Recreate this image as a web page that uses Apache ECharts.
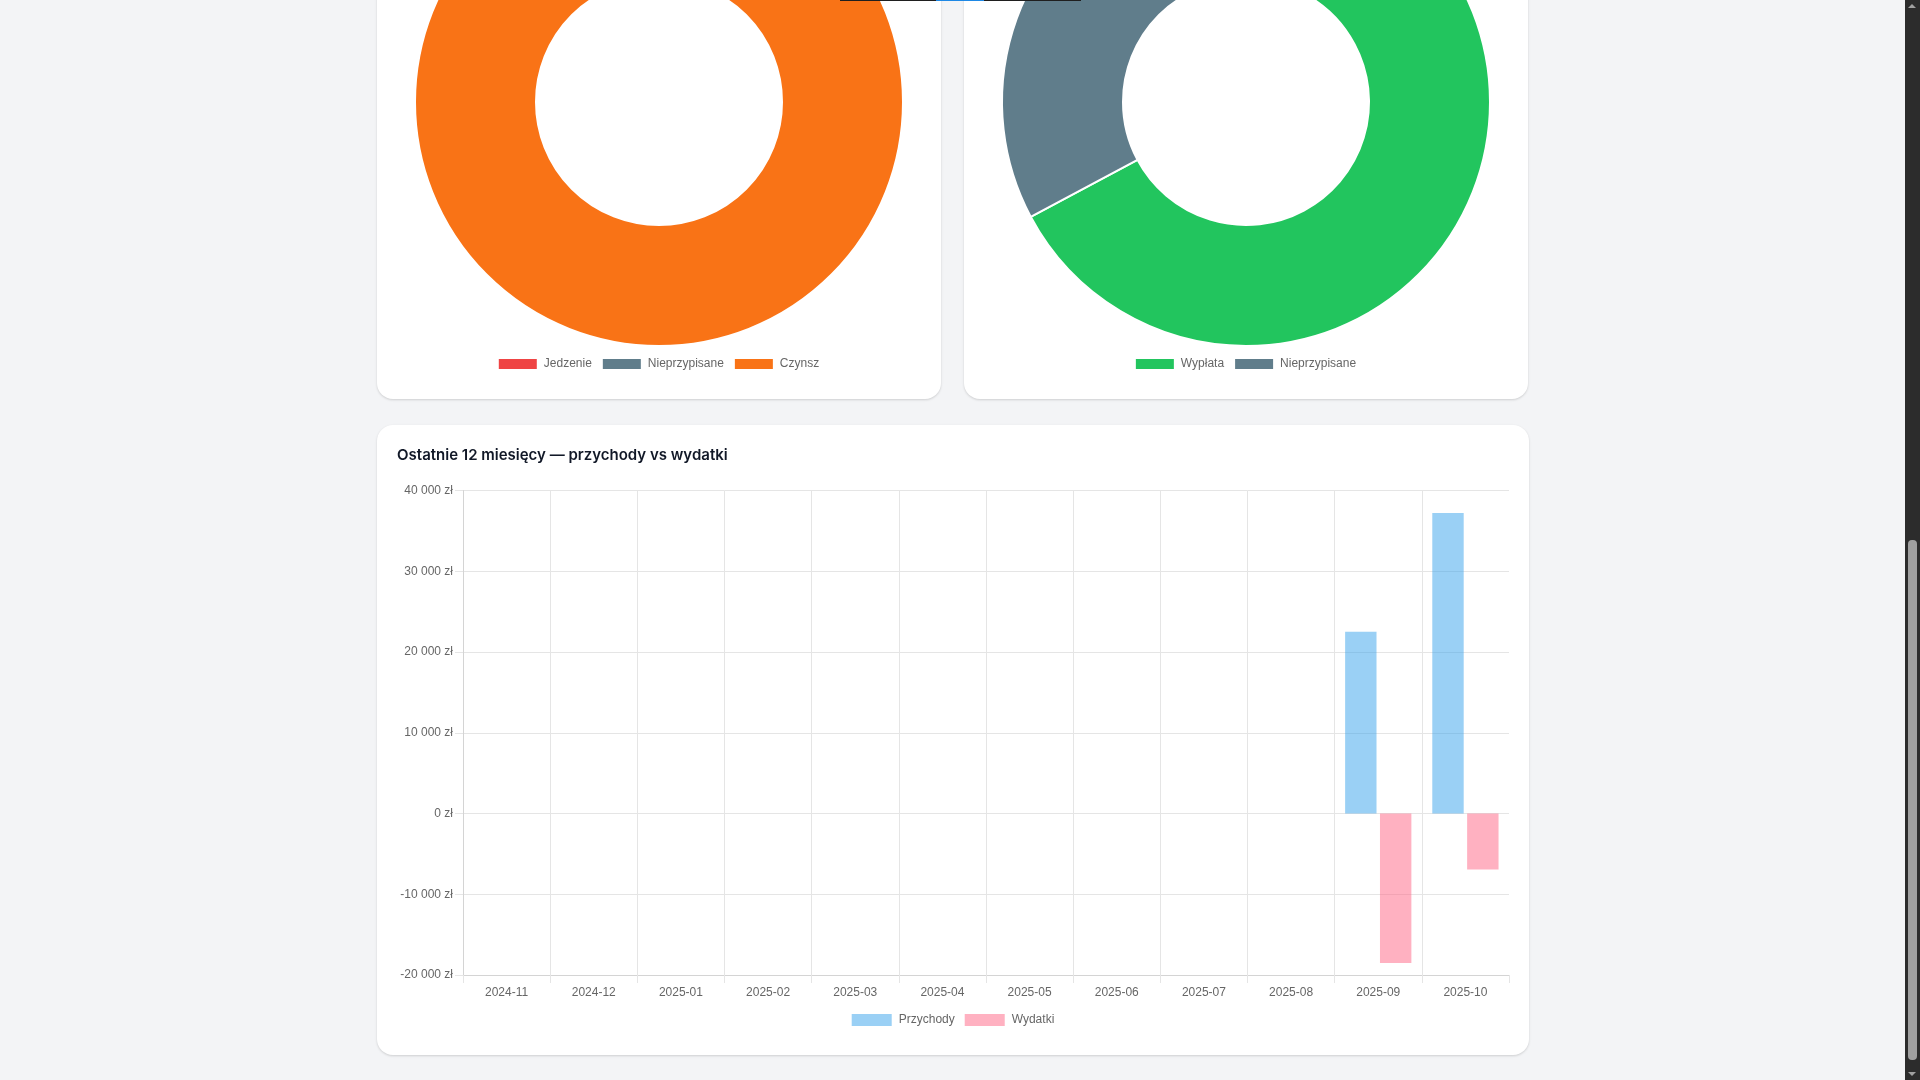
<!DOCTYPE html>
<html>
<head>
<meta charset="utf-8">
<script src="https://cdn.jsdelivr.net/npm/echarts@6/dist/echarts.min.js"></script>
<style>
    html, body {
        margin: 0;
        padding: 0;
        width: 1920px;
        height: 1080px;
        overflow: hidden;
        background: #f3f4f6;
        font-family: 'Liberation Sans', Arial, sans-serif;
    }
    .card {
        position: absolute;
        background: #fff;
        border-radius: 16px;
        box-shadow: 0 1px 3px rgba(0, 0, 0, 0.1), 0 1px 2px rgba(0, 0, 0, 0.06);
    }
    .card .chart {
        position: absolute;
        left: 0;
        top: 0;
        right: 0;
        bottom: 0;
    }
    /* strip left over from the element above the fold */
    .topline {
        position: absolute;
        top: 0;
        left: 840px;
        width: 241px;
        height: 1px;
        background: #1f1f1f;
    }
    .topline span {
        position: absolute;
        left: 96px;
        width: 48px;
        height: 1px;
        background: #1e88e5;
    }
    .scroll-track {
        position: absolute;
        left: 1905px;
        top: 0;
        width: 15px;
        height: 1080px;
        background: #2c2c2c;
    }
    .scroll-thumb {
        position: absolute;
        left: 3px;
        top: 540px;
        width: 9px;
        height: 520px;
        border-radius: 4px;
        background: #a0a0a0;
    }
    .arrow-up, .arrow-down {
        position: absolute;
        left: 3px;
        width: 0;
        height: 0;
        border-left: 4px solid transparent;
        border-right: 4px solid transparent;
    }
    .arrow-up { top: 4px; border-bottom: 4px solid #a0a0a0; }
    .arrow-down { bottom: 4px; border-top: 4px solid #a0a0a0; }
</style>
</head>
<body>

<div class="card" style="left:377px; top:-300px; width:564px; height:699px;">
    <div class="chart" id="chart-wydatki"></div>
</div>
<div class="card" style="left:964px; top:-300px; width:564px; height:699px;">
    <div class="chart" id="chart-przychody"></div>
</div>
<div class="card" style="left:377px; top:425px; width:1152px; height:630px;">
    <div class="chart" id="chart-miesiace"></div>
</div>

<div class="topline"><span></span></div>
<div class="scroll-track">
    <div class="arrow-up"></div>
    <div class="scroll-thumb"></div>
    <div class="arrow-down"></div>
</div>

<script>
// kategorie wydatków (bieżący miesiąc)
var expenseCats = ['Jedzenie', 'Nieprzypisane', 'Czynsz'];
var expenseCatValues = [0, 0, 6950];
var expenseCatColors = ['#ef4444', '#607d8b', '#f97316'];

// kategorie przychodów (bieżący miesiąc)
var incomeCats = ['Wypłata', 'Nieprzypisane'];
var incomeCatValues = [25000, 12200];
var incomeCatColors = ['#22c55e', '#607d8b'];

// ostatnie 12 miesięcy
var months = ['2024-11', '2024-12', '2025-01', '2025-02', '2025-03', '2025-04',
    '2025-05', '2025-06', '2025-07', '2025-08', '2025-09', '2025-10'];
var incomeValues = [0, 0, 0, 0, 0, 0, 0, 0, 0, 0, 22500, 37200];
var expenseValues = [0, 0, 0, 0, 0, 0, 0, 0, 0, 0, -18500, -6950];

var yMin = -20000;
var yMax = 40000;
var yStep = 10000;

var FONT = "'Liberation Sans', Arial, sans-serif";

function formatPln(v) {
    var s = String(Math.abs(v)).replace(/\B(?=(\d{3})+(?!\d))/g, '\u00a0');
    return (v < 0 ? '-' : '') + s + '\u00a0zł';
}

function pieData(names, values, colors) {
    var out = [];
    for (var i = 0; i < names.length; i++) {
        out.push({ name: names[i], value: values[i], itemStyle: { color: colors[i] } });
    }
    return out;
}

function donutOption(names, values, colors) {
    return {
        animation: false,
        legend: {
            data: names,
            top: 653,
            left: 'center',
            icon: 'rect',
            itemWidth: 38,
            itemHeight: 10,
            itemGap: 11,
            itemStyle: { borderWidth: 0 },
            selectedMode: false,
            textStyle: {
                color: '#666',
                fontSize: 12,
                fontFamily: FONT,
                padding: [0, 0, 0, 2]
            }
        },
        series: [{
            type: 'pie',
            center: [282, 402],
            radius: [123, 244],
            startAngle: 90,
            clockwise: true,
            silent: true,
            label: { show: false },
            labelLine: { show: false },
            itemStyle: { borderColor: '#fff', borderWidth: 2 },
            data: pieData(names, values, colors)
        }]
    };
}

var chartWydatki = echarts.init(document.getElementById('chart-wydatki'));
chartWydatki.setOption(donutOption(expenseCats, expenseCatValues, expenseCatColors));

var chartPrzychody = echarts.init(document.getElementById('chart-przychody'));
chartPrzychody.setOption(donutOption(incomeCats, incomeCatValues, incomeCatColors));

var chartMiesiace = echarts.init(document.getElementById('chart-miesiace'));

option = {
    animation: false,
    title: {
        text: 'Ostatnie 12 miesięcy — przychody vs wydatki',
        left: 20,
        top: 23,
        padding: 0,
        textStyle: {
            fontFamily: 'Inter',
            fontWeight: 600,
            fontSize: 15,
            color: '#111827'
        }
    },
    legend: {
        data: ['Przychody', 'Wydatki'],
        top: 584,
        left: 'center',
        icon: 'rect',
        itemWidth: 40,
        itemHeight: 12,
        itemGap: 10,
        selectedMode: false,
        textStyle: {
            color: '#666',
            fontSize: 12,
            fontFamily: FONT,
            padding: [0, 0, 0, 2]
        }
    },
    grid: {
        left: 86,
        right: 20,
        top: 65.5,
        bottom: 80
    },
    xAxis: {
        type: 'category',
        data: months,
        axisLine: {
            onZero: false,
            lineStyle: { color: '#d4d4d4', width: 1 }
        },
        axisTick: {
            show: true,
            length: 8,
            lineStyle: { color: '#e5e5e5' }
        },
        axisLabel: {
            color: '#666',
            fontSize: 12,
            fontFamily: FONT,
            margin: 12
        },
        splitLine: {
            show: true,
            showMaxLine: false,
            lineStyle: { color: '#e5e5e5' }
        }
    },
    yAxis: {
        type: 'value',
        min: yMin,
        max: yMax,
        interval: yStep,
        axisLine: {
            show: true,
            lineStyle: { color: '#d4d4d4', width: 1 }
        },
        axisTick: {
            show: true,
            length: 8,
            lineStyle: { color: '#e5e5e5' }
        },
        axisLabel: {
            color: '#666',
            fontSize: 12,
            fontFamily: FONT,
            margin: 10,
            formatter: formatPln
        },
        splitLine: {
            show: true,
            lineStyle: { color: '#e5e5e5' }
        }
    },
    series: [{
            name: 'Przychody',
            type: 'bar',
            barWidth: 31.4,
            barGap: '11%',
            itemStyle: { color: 'rgba(54, 162, 235, 0.5)' },
            data: incomeValues
        },
        {
            name: 'Wydatki',
            type: 'bar',
            barWidth: 31.4,
            barGap: '11%',
            itemStyle: { color: 'rgba(255, 99, 132, 0.5)' },
            data: expenseValues
        }
    ]
};
chartMiesiace.setOption(option);
</script>
</body>
</html>
